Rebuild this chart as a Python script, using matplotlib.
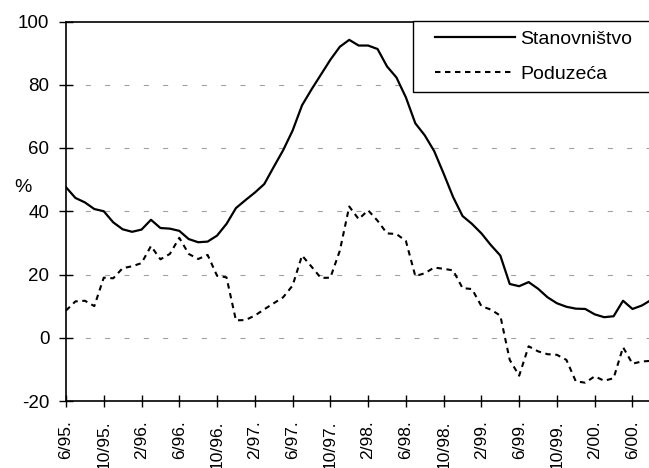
import matplotlib
matplotlib.use("Agg")
import matplotlib.pyplot as plt
from matplotlib.patches import Rectangle
import numpy as np

plt.rcParams['font.family'] = ['Liberation Sans', 'DejaVu Sans']
plt.rcParams['axes.unicode_minus'] = False

# Monthly values, starting June 1995
stanovnistvo = [47.6, 44.2, 42.8, 40.7, 40.0, 36.5, 34.3, 33.5, 34.2, 37.3,
                34.7, 34.5, 33.8, 31.2, 30.2, 30.4, 32.3, 36.0, 41.0, 43.5,
                45.9, 48.6, 54.0, 59.3, 65.5, 73.5, 78.5, 83.2, 87.9, 92.0,
                94.2, 92.4, 92.4, 91.3, 85.8, 82.3, 76.0, 67.8, 64.0, 59.0,
                51.9, 44.5, 38.5, 36.0, 33.0, 29.3, 26.0, 17.0, 16.3, 17.6,
                15.5, 12.8, 10.9, 9.8, 9.2, 9.1, 7.4, 6.5, 6.8, 11.7,
                9.1, 10.2, 12.0]
poduzeca = [8.6, 11.5, 11.7, 10.0, 19.0, 18.8, 22.0, 22.6, 23.6, 29.0,
            24.8, 26.5, 31.6, 26.5, 24.9, 26.2, 19.6, 19.1, 5.5, 5.6,
            7.0, 9.0, 10.9, 12.8, 16.5, 26.0, 22.5, 18.9, 19.0, 27.5,
            41.5, 37.5, 40.3, 37.0, 33.0, 32.8, 30.6, 19.5, 20.4, 22.2,
            21.8, 21.3, 15.7, 15.4, 10.0, 8.9, 7.0, -7.0, -12.0, -2.7,
            -4.3, -5.2, -5.4, -7.0, -13.8, -14.2, -12.2, -13.6, -12.8, -3.0,
            -8.2, -7.5, -7.3]
tick_labels = ["6/95.", "10/95.", "2/96.", "6/96.", "10/96.", "2/97.", "6/97.",
               "10/97.", "2/98.", "6/98.", "10/98.", "2/99.", "6/99.", "10/99.",
               "2/00.", "6/00."]
series_names = ["Stanovništvo", "Poduzeća"]
y_ticks = [-20, 0, 20, 40, 60, 80, 100]

W, H = 649, 468
fig = plt.figure(figsize=(W / 100, H / 100), dpi=100)
L, R, T, B = 66, 649, 21.5, 401
ax = fig.add_axes([L / W, 1 - B / H, (R - L) / W, (B - T) / H])

x = np.arange(len(stanovnistvo))
ax.plot(x, stanovnistvo, color='black', lw=1.6, label=series_names[0],
        solid_joinstyle='round')
ax.plot(x, poduzeca, color='black', lw=1.5, linestyle=(0, (2.6, 2.2)),
        label=series_names[1])

ax.set_xlim(0, 61.75)
ax.set_ylim(-20, 100)
ax.set_yticks(y_ticks)
ax.set_yticklabels([str(v) for v in y_ticks], fontsize=13.5)
ax.set_xticks(np.arange(0, 4 * len(tick_labels), 4))
ax.set_xticklabels(tick_labels, rotation=90, fontsize=12.5)
ax.tick_params(axis='y', direction='inout', length=9.5, width=1, pad=7.2)
ax.tick_params(axis='x', direction='inout', length=8.6, width=1, pad=9.5)

for v in [0, 20, 40, 60, 80]:
    ax.axhline(v, color='#a0a0a0', lw=0.8, linestyle=(0, (4.5, 12.9)), zorder=0)

ax.spines['right'].set_visible(False)
for s in ['left', 'bottom', 'top']:
    ax.spines[s].set_linewidth(1.2)
    ax.spines[s].set_color('black')

fig.text(22.7 / W, 1 - 187 / H, "%", fontsize=14, ha='center', va='center')

# legend frame (cropped at right edge like the reference)
def px2ax(px, py):
    return ((px - L) / (R - L), (B - py) / (B - T))

x0, y0 = px2ax(413, 92)
x1, y1 = px2ax(660, 21.5)
ax.add_patch(Rectangle((x0, y0), x1 - x0, y1 - y0, transform=ax.transAxes,
                       facecolor='white', edgecolor='black', lw=1.0,
                       zorder=5, clip_on=False))
lx, ly = px2ax(431, 26.5)
leg = ax.legend(loc='upper left', bbox_to_anchor=(lx, ly), frameon=False,
                fontsize=14, handlelength=4.1, handletextpad=0.3,
                labelspacing=0.9, borderpad=0.2, borderaxespad=0)
leg.set_zorder(6)

fig.savefig("out.png", dpi=100)
